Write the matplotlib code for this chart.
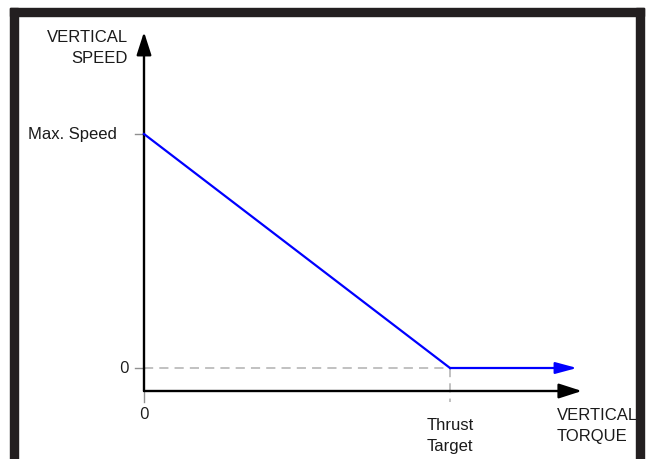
import matplotlib
matplotlib.use("Agg")
from matplotlib import pyplot as plt
from matplotlib.patches import Rectangle

# schematic values (normalised units)
thrust_target = 1.0
max_speed = 1.0
torque_end = 1.415          # where the blue arrow stops
curve_torque = [0.0, thrust_target, torque_end]
curve_speed = [max_speed, 0.0, 0.0]

y_tick_pos = [max_speed, 0.0]
y_tick_labels = ["Max. Speed", "0"]
x_tick_pos = [0.0, thrust_target]
x_tick_labels = ["0", "Thrust\nTarget"]

W, H = 647, 460
fig = plt.figure(figsize=(W / 100, H / 100), dpi=100)
ax = fig.add_axes([0, 0, 1, 1])
# pixel mapping: torque 0 -> x 144, 1 -> x 450 ; speed 0 -> y 369, 1 -> y 135
px_x, px_y = 306.0, 234.0
ax.set_xlim(-144 / px_x, (W - 144) / px_x)
ax.set_ylim((369 - H) / px_y, 369 / px_y)
ax.axis("off")

axis_y = -23 / px_y        # position of horizontal axis
x_arrow_end = 1.431
y_arrow_end = 1.436
sans = ["Liberation Sans", "DejaVu Sans"]
nums = ["Open Sans", "DejaVu Sans"]
fs = 12
ls2 = 1.42
tc = "#1a1a1a"

# dashed guides
ax.plot([0, thrust_target], [0, 0], color="#b0b0b0", lw=1.1, ls=(0, (6, 4)), zorder=1)
ax.plot([thrust_target, thrust_target], [0, axis_y - 11 / px_y], color="#b0b0b0",
        lw=1.1, ls=(0, (6, 4)), zorder=1)

# axes with arrows
ax.annotate("", xy=(x_arrow_end, axis_y), xytext=(0, axis_y),
            arrowprops=dict(arrowstyle="-|>,head_length=1.4,head_width=0.45",
                            color="black", lw=1.7, shrinkA=0, shrinkB=0), zorder=3)
ax.annotate("", xy=(0, y_arrow_end), xytext=(0, axis_y),
            arrowprops=dict(arrowstyle="-|>,head_length=1.4,head_width=0.45",
                            color="black", lw=1.7, shrinkA=0, shrinkB=0), zorder=3)

# tick marks
for y in y_tick_pos:
    ax.plot([-9 / px_x, 0], [y, y], color="#909090", lw=1, zorder=2)
ax.plot([0, 0], [axis_y, axis_y - 11 / px_y], color="#909090", lw=1, zorder=2)

# blue curve
ax.plot(curve_torque[:2], curve_speed[:2], color="#0000ff", lw=1.6, zorder=4)
ax.annotate("", xy=(curve_torque[2], curve_speed[2]), xytext=(curve_torque[1], curve_speed[1]),
            arrowprops=dict(arrowstyle="-|>,head_length=1.3,head_width=0.35",
                            color="#0000ff", lw=1.6, shrinkA=0, shrinkB=0), zorder=4)

# tick labels
ax.text(-27 / px_x, y_tick_pos[0], y_tick_labels[0], ha="right", va="center",
        fontsize=fs, family=sans, color=tc)
ax.text(-15 / px_x, y_tick_pos[1], y_tick_labels[1], ha="right", va="center",
        fontsize=fs, family=nums, color=tc)
ax.text(x_tick_pos[0], axis_y - 23 / px_y, x_tick_labels[0], ha="center", va="center",
        fontsize=fs, family=nums, color=tc)
ax.text(x_tick_pos[1], axis_y - 44 / px_y, x_tick_labels[1], ha="center", va="center",
        fontsize=fs, family=sans, linespacing=ls2, color=tc)

# axis titles
ax.text(-16 / px_x, (369 - 48) / px_y, "VERTICAL\nSPEED", ha="right", va="center",
        fontsize=fs, family=sans, linespacing=ls2, color=tc)
ax.text(413 / px_x, axis_y - 34 / px_y, "VERTICAL\nTORQUE", ha="left", va="center",
        fontsize=fs, family=sans, linespacing=ls2, color=tc)

# black frame (top, left, right) drawn in pixel fractions
fc = "#231f20"
for (x0, y0, w, h) in [(10, 9, 634, 8), (10, 9, 8, H - 9), (636, 9, 8, H - 9)]:
    fig.patches.append(Rectangle((x0 / W, 1 - (y0 + h) / H), w / W, h / H,
                                 transform=fig.transFigure, color=fc, zorder=10))

fig.savefig("out.png", dpi=100)
